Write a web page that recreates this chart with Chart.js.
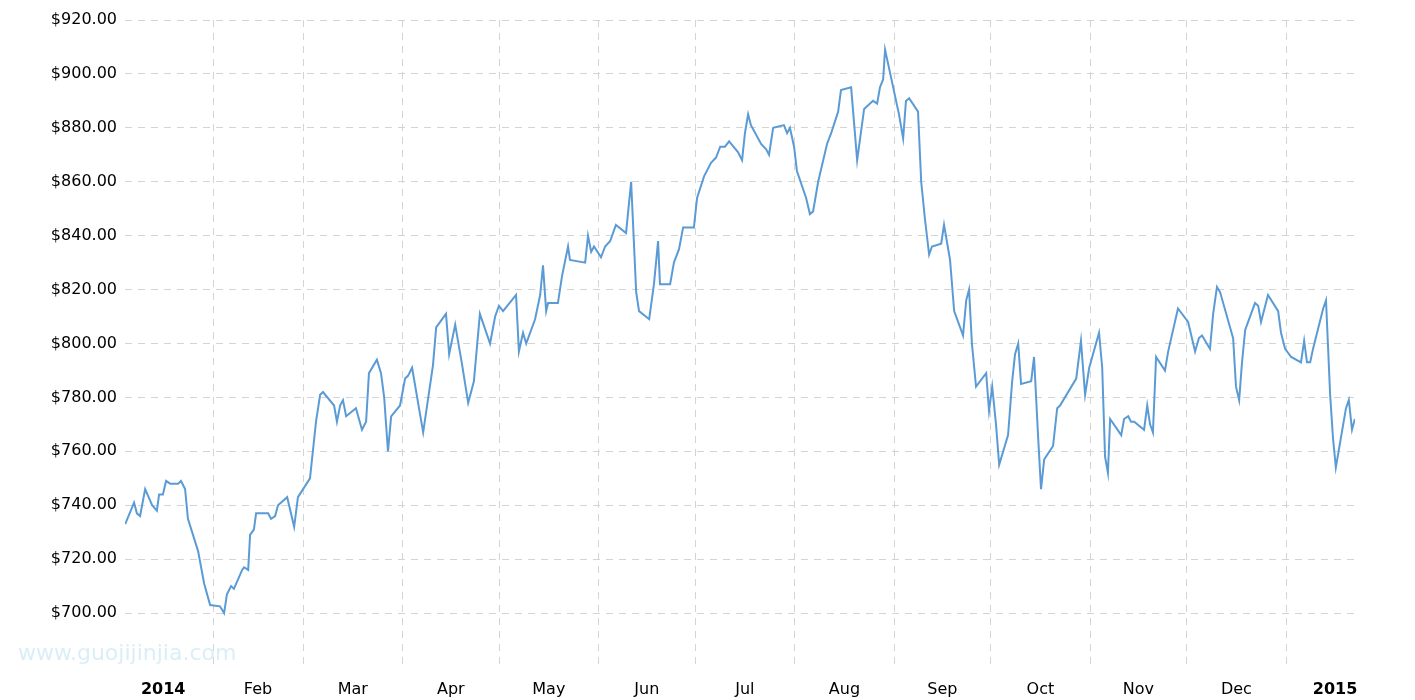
<!DOCTYPE html>
<html><head><meta charset="utf-8">
<script src="https://cdn.jsdelivr.net/npm/chart.js@4"></script>
<style>html,body{margin:0;background:#fff}#w{width:1415px;height:700px}</style>
</head><body><div id="w"><canvas id="c"></canvas></div>
<script>
// approximate trading-day positions (rough day units, calibrated below to days since 2014-01-01)
const rawDays=[3.2,6.0,6.9,7.9,9.5,11.7,13.2,13.9,15.1,16.1,17.4,19.9,20.8,22.1,23.0,26.2,28.1,30.0,33.1,34.4,35.3,36.6,37.5,40.1,40.7,42.0,42.6,43.8,44.5,48.3,49.2,50.5,51.4,54.3,56.5,57.7,61.5,63.4,64.7,65.6,69.1,70.0,71.0,71.9,72.9,76.0,77.9,79.2,80.1,82.6,83.9,84.9,86.1,87.1,89.9,91.5,92.4,93.7,97.2,100.3,101.3,104.4,105.4,107.3,109.5,111.4,113.2,115.1,118.3,119.9,121.1,122.4,126.5,127.4,128.7,129.7,132.5,134.1,135.0,136.0,136.6,139.7,141.0,142.9,143.5,148.3,149.2,150.2,151.1,153.3,154.6,156.2,158.0,161.2,162.8,164.4,165.3,168.5,170.0,171.3,171.9,175.1,176.3,177.9,179.2,182.6,183.6,185.8,188.0,189.6,190.9,192.4,193.7,196.5,197.8,198.7,199.7,200.6,203.8,205.4,206.3,207.6,211.0,212.0,212.9,214.2,215.1,218.0,219.2,220.2,221.8,224.6,225.9,228.1,229.0,232.2,234.1,236.3,239.1,240.4,241.3,242.3,242.9,247.3,248.6,249.5,250.5,253.3,254.3,255.5,256.8,257.7,260.6,261.5,263.4,264.7,267.5,268.5,269.4,270.3,271.6,274.8,275.7,276.7,277.9,278.9,281.7,283.0,283.9,284.9,285.8,289.0,289.9,291.2,292.1,293.1,295.9,297.2,298.1,303.2,304.7,306.0,307.3,310.4,311.4,312.3,313.2,313.9,317.4,318.3,319.6,320.5,321.5,324.6,325.6,326.5,327.4,328.4,331.2,332.2,335.3,338.5,340.7,341.9,342.9,345.4,346.4,347.6,348.6,352.7,353.6,354.6,355.5,356.5,359.6,360.6,361.5,363.7,366.9,367.8,369.1,371.0,374.1,375.1,376.0,377.0,377.9,381.1,382.0,383.3,384.2,385.1,388.3,389.2,390.2,391.1];
const prices=[733,741,737,736,746,740,738,744,744,749,748,748,749,746,735,723,711,703,702.5,700,707,710,709,716,717,716,729,731,737,737,735,736,740,743,732,743,750,771,781,782,777,771,777,779,773,776,768,771,789,794,789,780,760,773,777,787,788,791,767,792,806,811,796,807,792,778,786,811,800,810,814,812,818,797,804,800,809,818,829,812,815,815,825,836,831,830,840,834,836,832,836,838,844,841,860,819,812,809,822,838,822,822,830,835,843,843,854,862,867,869,873,873,875,871,868,878,885,881,874,872,870,880,881,878,880,873,864,854,848,849,860,874,878,886,894,895,868,887,890,889,895,898,909,885,876,890,891,886,860,846,833,836,837,844,831,812,803,816,820,800,784,789,775,784,770,755,766,786,796,800,785,786,795,765,746,757,762,776,777,787,801,781,791,804,791,758,752,772,766,772,773,771,771,768,777,770,767,795,790,797,813,808,797,802,803,798,811,821,819,802,784,779,793,805,815,814,808,818,812,804,798,795,793,801,793,793,798,813,816,781,765,754,776,779,768,772];
const days=rawDays.map(d=>0.498+0.9866*d);
const monthStarts=[31,59,90,120,151,181,212,243,273,304,334,365];
const monthLabels=[[15.5,'2014'],[45,'Feb'],[74.5,'Mar'],[105,'Apr'],[135.5,'May'],[166,'Jun'],[196.5,'Jul'],[227.5,'Aug'],[258,'Sep'],[288.5,'Oct'],[319,'Nov'],[349.5,'Dec'],[380.2,'2015']];
const yTicks=[700,720,740,760,780,800,820,840,860,880,900,920];

const labelMap={};monthLabels.forEach(([d,t])=>labelMap[d]=t);
const wm={id:'wm',afterDraw(c){const x=c.ctx;x.save();x.font='22px "DejaVu Sans"';x.fillStyle='rgba(150,205,235,0.35)';x.textBaseline='middle';x.fillText('www.guojijinjia.com',18,654);x.restore();}};
new Chart(document.getElementById('c'),{
type:'line',
data:{datasets:[{data:days.map((d,i)=>({x:d,y:prices[i]})),borderColor:'#5b9bd5',borderWidth:2,pointRadius:0,tension:0,fill:false}]},
options:{responsive:true,maintainAspectRatio:false,animation:false,
layout:{padding:{left:0,right:60,top:20,bottom:0}},
plugins:{legend:{display:false},tooltip:{enabled:false}},
scales:{
x:{type:'linear',min:3.6,max:386.4,
 afterBuildTicks(a){a.ticks=[...monthStarts.map(v=>({value:v})),...monthLabels.map(m=>({value:m[0]}))].sort((p,q)=>p.value-q.value);},
 afterFit(a){a.height=33;},
 ticks:{autoSkip:false,maxRotation:0,color:'#000',padding:13,font:c=>({family:'"DejaVu Sans"',size:16,weight:(c.tick&&/20/.test(labelMap[c.tick.value]||''))?'bold':'normal'}),callback:v=>labelMap[v]||''},
 grid:{color:c=>monthStarts.includes(c.tick&&c.tick.value)?'#d4d4d4':'rgba(0,0,0,0)',drawTicks:false,tickLength:0},border:{display:false,dash:[7,6]}},
y:{min:680,max:920,
 afterBuildTicks(a){a.ticks=[680,...yTicks].map(v=>({value:v}));},
 afterFit(a){a.width=125;},
 ticks:{color:'#000',padding:8,font:{family:'"DejaVu Sans"',size:16},callback:v=>v===680?'':'$'+v.toFixed(2)},
 grid:{color:c=>c.tick&&c.tick.value===680?'rgba(0,0,0,0)':'#d4d4d4',drawTicks:false},border:{display:false,dash:[7,6]}}
}},plugins:[wm]});
</script></body></html>
